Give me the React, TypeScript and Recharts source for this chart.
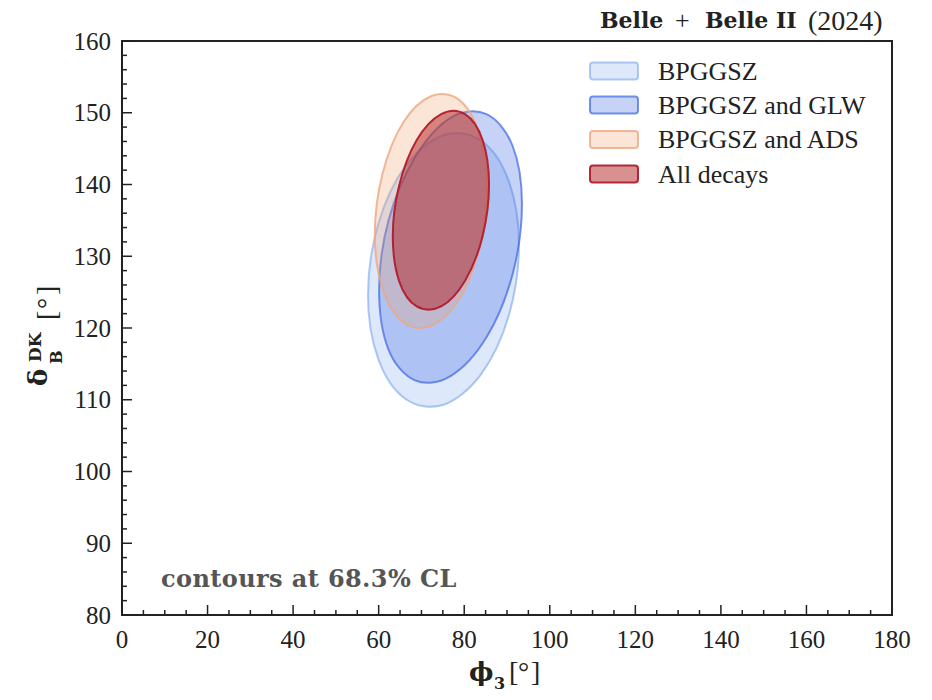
import React from "react";
import { ScatterChart, Scatter, XAxis, YAxis, ReferenceArea } from "recharts";

// Axis ticks
const xMajorTicks = [0, 20, 40, 60, 80, 100, 120, 140, 160, 180];
const yMajorTicks = [80, 90, 100, 110, 120, 130, 140, 150, 160];
const xAllTicks = Array.from({ length: 37 }, (_, i) => i * 5);
const yAllTicks = Array.from({ length: 41 }, (_, i) => 80 + i * 2);

// Series names
const seriesNames = ["BPGGSZ", "BPGGSZ and GLW", "BPGGSZ and ADS", "All decays"];

// Contour points (phi3, deltaB)
const bpggszPhi = [92.8, 90.4, 84.0, 75.2, 66.3, 59.9, 57.5, 59.9, 66.3, 75.2, 84.0, 90.4];
const bpggszDelta = [131.6, 140.5, 146.1, 146.9, 142.6, 134.5, 124.6, 115.7, 110.1, 109.3, 113.6, 121.7];

const glwPhi = [93.5, 91.3, 85.2, 76.8, 68.5, 62.3, 60.1, 62.3, 68.5, 76.8, 85.2, 91.3];
const glwDelta = [137.3, 145.4, 149.8, 149.3, 143.8, 135.0, 125.3, 117.0, 112.7, 113.3, 118.7, 127.5];

const adsPhi = [85.3, 83.5, 78.8, 72.2, 65.7, 60.9, 59.1, 60.9, 65.7, 72.2, 78.8, 83.5];
const adsDelta = [139.5, 147.1, 151.8, 152.3, 148.6, 141.5, 133.1, 125.5, 120.8, 120.3, 124.0, 131.1];

const allPhi = [85.8, 84.3, 80.2, 74.6, 68.9, 64.8, 63.3, 64.8, 68.9, 74.6, 80.2, 84.3];
const allDelta = [140.0, 146.2, 149.8, 149.8, 146.2, 139.9, 132.8, 126.5, 123.0, 123.0, 126.6, 132.8];

const toPoints = (xs: number[], ys: number[]) => xs.map((x, i) => ({ x, y: ys[i] }));

const styles = [
  { fill: "#6495ED", fillOpacity: 0.22, stroke: "#6495ED", strokeOpacity: 0.5 },
  { fill: "#4169E1", fillOpacity: 0.3, stroke: "#4169E1", strokeOpacity: 0.72 },
  { fill: "#F0A070", fillOpacity: 0.28, stroke: "#ECA880", strokeOpacity: 0.8 },
  { fill: "#B22222", fillOpacity: 0.5, stroke: "#B0182A", strokeOpacity: 0.92 },
];

const contours = [
  toPoints(bpggszPhi, bpggszDelta),
  toPoints(glwPhi, glwDelta),
  toPoints(adsPhi, adsDelta),
  toPoints(allPhi, allDelta),
];

function closedPath(pts: { x: number; y: number }[]) {
  const n = pts.length;
  if (!n) return "";
  let d = `M${pts[0].x},${pts[0].y}`;
  for (let i = 0; i < n; i++) {
    const p0 = pts[(i - 1 + n) % n];
    const p1 = pts[i];
    const p2 = pts[(i + 1) % n];
    const p3 = pts[(i + 2) % n];
    const c1x = p1.x + (p2.x - p0.x) / 6;
    const c1y = p1.y + (p2.y - p0.y) / 6;
    const c2x = p2.x - (p3.x - p1.x) / 6;
    const c2y = p2.y - (p3.y - p1.y) / 6;
    d += ` C${c1x},${c1y} ${c2x},${c2y} ${p2.x},${p2.y}`;
  }
  return d + " Z";
}

const EmptyShape = () => null;

const makeLine = (idx: number) => (props: any) => {
  const s = styles[idx];
  return (
    <path
      d={closedPath(props.points || [])}
      fill={s.fill}
      fillOpacity={s.fillOpacity}
      stroke={s.stroke}
      strokeOpacity={s.strokeOpacity}
      strokeWidth={2}
    />
  );
};

const SERIF = "'Liberation Serif', serif";
const BOLD = "'DejaVu Serif', serif";
const INK = "#222";

const XTick = (props: any) => {
  const { x, y, payload } = props;
  const major = xMajorTicks.includes(payload.value);
  return (
    <g>
      <line x1={x} x2={x} y1={y} y2={y - (major ? 10 : 5)} stroke={INK} strokeWidth={1.5} />
      {major && (
        <text x={x} y={y + 24} textAnchor="middle" dominantBaseline="central" fontFamily={SERIF} fontSize={25} fill={INK}>
          {payload.value}
        </text>
      )}
    </g>
  );
};

const YTick = (props: any) => {
  const { x, y, payload } = props;
  const major = yMajorTicks.includes(payload.value);
  return (
    <g>
      <line x1={x} x2={x + (major ? 10 : 5)} y1={y} y2={y} stroke={INK} strokeWidth={1.5} />
      {major && (
        <text x={x - 11} y={y} textAnchor="end" dominantBaseline="central" fontFamily={SERIF} fontSize={25} fill={INK}>
          {payload.value}
        </text>
      )}
    </g>
  );
};

export default function App() {
  const legendRows = [71, 105, 139.5, 174];
  return (
    <div style={{ position: "absolute", left: 0, top: 0, width: 932, height: 700, background: "#fff" }}>
      <ScatterChart width={932} height={700} margin={{ top: 41, right: 40, bottom: 0, left: 0 }}>
        <XAxis
          type="number"
          dataKey="x"
          domain={[0, 180]}
          ticks={xAllTicks}
          interval={0}
          height={85}
          tickSize={0}
          tickMargin={0}
          tickLine={false}
          axisLine={{ stroke: INK, strokeWidth: 2 }}
          tick={<XTick />}
          allowDataOverflow
        />
        <YAxis
          type="number"
          dataKey="y"
          domain={[80, 160]}
          ticks={yAllTicks}
          interval={0}
          width={122}
          tickSize={0}
          tickMargin={0}
          tickLine={false}
          axisLine={{ stroke: INK, strokeWidth: 2 }}
          tick={<YTick />}
          allowDataOverflow
        />
        {contours.map((pts, i) => (
          <Scatter
            key={seriesNames[i]}
            name={seriesNames[i]}
            data={pts}
            shape={<EmptyShape />}
            line={makeLine(i)}
            lineType="joint"
            isAnimationActive={false}
          />
        ))}
        <ReferenceArea x1={0} x2={180} y1={80} y2={160} fill="none" stroke={INK} strokeWidth={2} ifOverflow="visible" />
      </ScatterChart>
      <svg width={932} height={700} style={{ position: "absolute", left: 0, top: 0, pointerEvents: "none" }}>
        {/* Title */}
        <text y={20} dominantBaseline="central" fill={INK}>
          <tspan x={600} fontFamily={BOLD} fontWeight="bold" fontSize={22}>Belle</tspan>
          <tspan x={675} fontFamily={SERIF} fontSize={26}>+</tspan>
          <tspan x={705} fontFamily={BOLD} fontWeight="bold" fontSize={22}>Belle II</tspan>
          <tspan x={808} fontFamily={SERIF} fontSize={28}>(2024)</tspan>
        </text>
        {/* Legend */}
        {seriesNames.map((name, i) => (
          <g key={name}>
            <rect
              x={590}
              y={legendRows[i] - 8.5}
              width={48}
              height={17}
              rx={3}
              fill={styles[i].fill}
              fillOpacity={styles[i].fillOpacity}
              stroke={styles[i].stroke}
              strokeOpacity={styles[i].strokeOpacity}
              strokeWidth={2}
            />
            <text x={658} y={legendRows[i]} dominantBaseline="central" fontFamily={SERIF} fontSize={26} fill={INK}>
              {name}
            </text>
          </g>
        ))}
        {/* Annotation */}
        <text x={161} y={578} dominantBaseline="central" fontFamily={BOLD} fontWeight="bold" fontSize={24} letterSpacing={0.4} fill="#555">
          contours at 68.3% CL
        </text>
        {/* X label */}
        <text y={681} fill={INK}>
          <tspan x={469} fontFamily={BOLD} fontWeight="bold" fontSize={26}>ϕ</tspan>
          <tspan x={494} dy={8} fontFamily={BOLD} fontWeight="bold" fontSize={16}>3</tspan>
          <tspan x={509} dy={-8} fontFamily={SERIF} fontSize={28}>[</tspan>
          <tspan x={518} fontFamily={SERIF} fontSize={28}>°</tspan>
          <tspan x={531} fontFamily={SERIF} fontSize={28}>]</tspan>
        </text>
        {/* Y label */}
        <g transform="translate(0,386) rotate(-90)">
          <text x={0} y={47} fontFamily={BOLD} fontWeight="bold" fontSize={26} fill={INK}>δ</text>
          <text x={22} y={62} fontFamily={BOLD} fontWeight="bold" fontSize={16} fill={INK}>B</text>
          <text x={24} y={41} fontFamily={BOLD} fontWeight="bold" fontSize={17} fill={INK}>DK</text>
          <text x={66} y={56} fontFamily={SERIF} fontSize={28} fill={INK}>[</text>
          <text x={77} y={56} fontFamily={SERIF} fontSize={28} fill={INK}>°</text>
          <text x={91} y={56} fontFamily={SERIF} fontSize={28} fill={INK}>]</text>
        </g>
      </svg>
    </div>
  );
}
